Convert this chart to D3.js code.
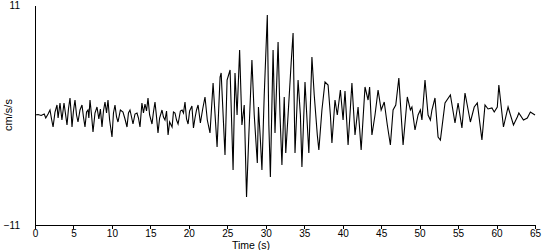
<!DOCTYPE html>
<html>
<head>
<meta charset="utf-8">
<script src="https://cdn.jsdelivr.net/npm/d3@7"></script>
<style>
  body { margin: 0; background: #fff; }
  text { font-family: "Liberation Sans", Arial, sans-serif; font-size: 11px; fill: #000; }
  .tick text { font-size: 10px; }
</style>
</head>
<body>
<div id="chart"></div>
<script>
// time (s) and acceleration (cm/s/s)
let times = [
  0, 0.4, 0.8, 1.2, 1.4, 1.7, 1.95, 2.15, 2.35, 2.6, 2.86, 3.0, 3.25, 3.5, 3.77, 3.95,
  4.16, 4.35, 4.55, 4.7, 4.81, 5.0, 5.2, 5.4, 5.59, 5.85, 6.11, 6.3, 6.5, 6.7, 6.89, 7.0,
  7.15, 7.35, 7.54, 7.8, 8.06, 8.3, 8.5, 8.71, 8.9, 9.1, 9.3, 9.49, 9.7, 10.01, 10.2, 10.4,
  10.6, 10.79, 11.1, 11.44, 11.7, 11.96, 12.15, 12.35, 12.55, 12.74, 13.0, 13.26, 13.45, 13.65,
  13.9, 14.1, 14.3, 14.5, 14.69, 14.9, 15.21, 15.4, 15.6, 15.8, 15.99, 16.2, 16.51, 16.7,
  16.9, 17.1, 17.3, 17.5, 17.82, 18.0, 18.2, 18.4, 18.6, 18.9, 19.12, 19.3, 19.5, 19.7,
  19.9, 20.1, 20.4, 20.6, 20.8, 21.0, 21.2, 21.5, 21.8, 22.1, 22.4, 22.75, 23.15, 23.67,
  24.06, 24.2, 24.7, 24.97, 25.36, 25.75, 26.0, 26.27, 26.6, 26.9, 27.2, 27.5, 27.8, 28.2,
  28.5, 28.9, 29.05, 29.3, 29.5, 29.8, 30.2, 30.4, 30.6, 30.95, 31.2, 31.6, 31.85, 32.1,
  32.4, 32.6, 32.9, 33.3, 33.55, 33.8, 34.2, 34.5, 34.7, 35.1, 35.4, 35.6, 36.0, 36.3,
  36.7, 36.9, 37.3, 37.7, 38.1, 38.4, 38.6, 39.0, 39.3, 39.7, 40.05, 40.3, 40.7, 41.2,
  41.6, 42.0, 42.4, 42.9, 43.3, 43.5, 43.8, 44.2, 44.6, 45.0, 45.4, 45.8, 46.2, 46.55,
  46.9, 47.3, 47.6, 47.85, 48.4, 48.8, 49.0, 49.4, 49.8, 50.1, 50.3, 50.7, 51.1, 51.4,
  51.6, 52.0, 52.4, 52.7, 53.3, 54.0, 54.6, 55.0, 55.5, 55.9, 56.6, 57.1, 57.5, 58.1,
  58.5, 58.9, 59.4, 59.7, 60.1, 60.3, 60.9, 61.5, 62.2, 62.7, 62.9, 63.5, 64.0, 64.4, 65.0
];
let accel = [
  0, 0.05, -0.05, 0.1, -0.3, 0.1, 0.5, -0.4, -1.2, 0.3, 1.0, -0.3, 1.2, -0.5, 1.2, 0.2,
  -1.0, 0.6, 1.7, 0.2, -1.2, 0.4, 1.5, 0.0, -0.7, 0.5, 1.0, -0.2, -1.2, 0.3, 0.5, -0.3,
  1.5, 0.0, -1.7, 0.2, 0.8, -0.4, 0.6, -1.2, 0.4, 1.3, 0.2, 1.5, -0.5, -2.2, 0.2, 1.0,
  -0.2, -0.7, 0.5, 0.3, -0.4, -1.2, 0.2, 0.5, -0.2, -0.9, 0.1, 0.2, -0.3, -1.2,
  1.2, 0.2, 1.1, 0.4, 1.7, 0.0, -0.9, 0.3, 1.3, -0.2, -1.8, -0.3, 0.5, -0.2,
  -0.5, 0.4, -2.0, -0.7, -1.2, 0.3, 0.2, -0.5, -0.9, 0.4, 0.5, 0.2, 1.3, -0.4,
  -0.9, 0.4, 0.9, -1.3, -0.3, 0.5, 1.0, -0.8, 0.6, 1.8, -0.5, -1.8, 3.2, -3.2,
  3.8, 4.2, -4.0, 3.5, 4.5, -5.5, 4.2, 0.0, 6.5, -1.0, 1.0, -8.2, -2.0, 5.5,
  0.0, -4.8, 0.8, -2.5, -5.5, 2.0, 10.0, -1.0, -6.2, 6.5, -1.8, 7.3, 0.0, -5.0,
  1.8, -3.8, 0.0, 5.2, 8.2, -3.8, 3.5, 0.0, -5.2, 3.3, -1.0, -3.8, 5.8, 2.0,
  -2.0, -3.5, 0.5, 3.3, 3.0, 0.0, -2.8, 1.5, 0.0, 2.5, -0.5, 2.4, -3.0, 3.2,
  -2.0, 0.8, -3.5, 2.8, 1.5, 2.8, -2.0, 0.0, 2.5, 0.5, 1.3, -1.0, -3.0, 0.5,
  1.0, 3.7, 0.0, -3.0, 1.8, 0.5, 0.8, -1.5, 0.0, 0.5, -0.5, 3.5, 0.0, -0.5,
  0.5, 1.7, -2.2, -2.5, 1.2, 2.0, -0.8, 1.2, -1.3, 2.2, -0.7, 0.8, 1.2, -2.5,
  1.0, 0.6, 0.7, 0.3, 0.8, 3.0, -1.2, 0.8, -1.0, -0.2, 0.2, -0.5, -0.3, 0.3, 0.0
];
let xTicks = [0, 5, 10, 15, 20, 25, 30, 35, 40, 45, 50, 55, 60, 65];
let yTicks = [-11, 11];

let data = times.map(function (t, i) {
  return {t: t, v: accel[i]};
});

let margin = {top: 5, right: 15, bottom: 25, left: 35},
  width = 550 - margin.left - margin.right,
  height = 250 - margin.top - margin.bottom;

let svg = d3.select("#chart").append("svg")
  .attr("width", 550)
  .attr("height", 250)
  .append("g")
  .attr("transform", "translate(" + margin.left + "," + margin.top + ")");

let x = d3.scaleLinear()
  .domain([0, 65])
  .range([0, width]);

let y = d3.scaleLinear()
  .domain([-11, 11])
  .range([height, 0]);

// x axis
svg.append("g")
  .attr("transform", "translate(0," + height + ")")
  .call(d3.axisBottom(x).tickValues(xTicks).tickSize(4).tickSizeOuter(0).tickPadding(1));

// y axis, only end labels
svg.append("g")
  .call(d3.axisLeft(y).tickValues(yTicks).tickSize(0).tickSizeOuter(0).tickPadding(15));

svg.selectAll(".domain, .tick line")
  .attr("stroke", "#000")
  .attr("shape-rendering", "crispEdges");
svg.selectAll(".tick text")
  .attr("font-family", null)
  .attr("font-size", null);

// axis titles
svg.append("text")
  .attr("x", 216)
  .attr("y", 244)
  .attr("text-anchor", "middle")
  .style("font-size", "10.5px")
  .text("Time (s)");

svg.append("text")
  .attr("transform", "translate(-23," + y(0) + ") rotate(-90)")
  .attr("text-anchor", "middle")
  .text("cm/s/s");

let line = d3.line()
  .x(function (d) { return x(d.t); })
  .y(function (d) { return y(d.v); });

svg.append("path")
  .datum(data)
  .attr("d", line)
  .attr("fill", "none")
  .attr("stroke", "#000")
  .attr("stroke-width", 1.1);
</script>
</body>
</html>
